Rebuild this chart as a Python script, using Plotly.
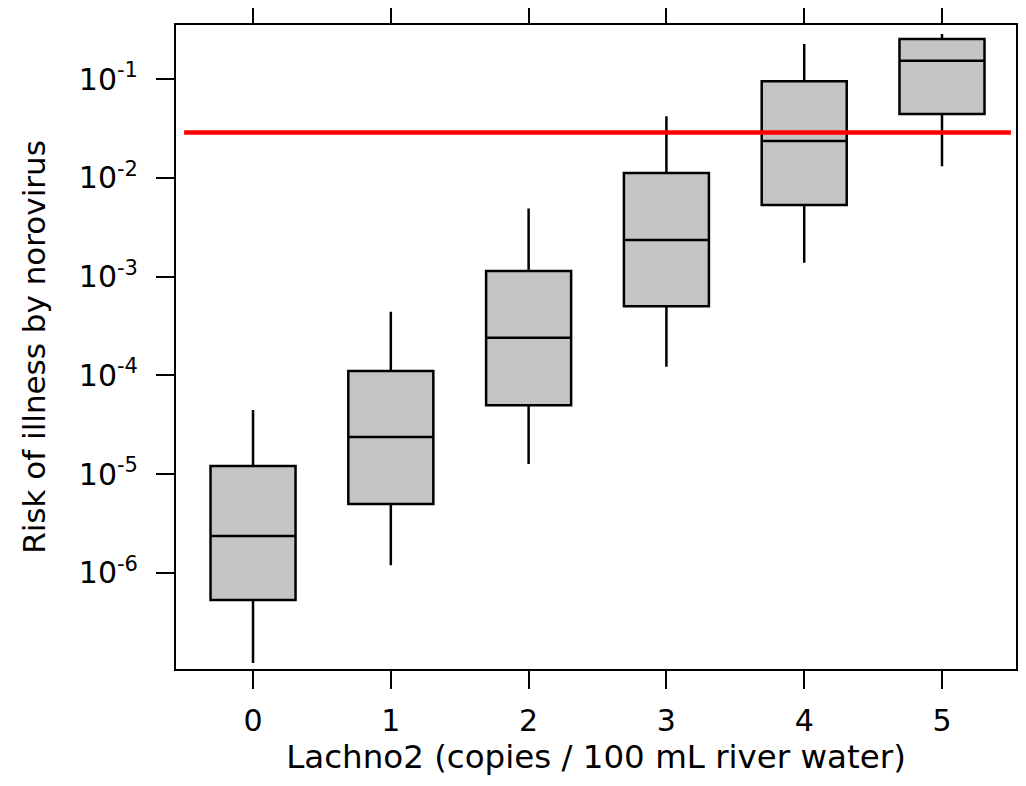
import plotly.graph_objects as go

# Data
categories = [0, 1, 2, 3, 4, 5]
upper_whisker = [4.47e-5, 4.4e-4, 4.9e-3, 4.2e-2, 0.226, 0.285]
q3_values = [1.21e-5, 1.11e-4, 1.14e-3, 1.12e-2, 0.095, 0.254]
median_values = [2.37e-6, 2.38e-5, 2.4e-4, 2.35e-3, 0.0236, 0.153]
q1_values = [5.33e-7, 5.0e-6, 5.0e-5, 5.0e-4, 5.3e-3, 0.0443]
lower_whisker = [1.23e-7, 1.2e-6, 1.27e-5, 1.22e-4, 1.38e-3, 0.0131]
threshold_x = [-0.5, 5.5]
threshold_y = [0.0288, 0.0288]
y_tickvals = [1e-6, 1e-5, 1e-4, 1e-3, 1e-2, 1e-1]
y_ticktext = ["10<sup>-6</sup>", "10<sup>-5</sup>", "10<sup>-4</sup>",
              "10<sup>-3</sup>", "10<sup>-2</sup>", "10<sup>-1</sup>"]
x_ticktext = ["0", "1", "2", "3", "4", "5"]

FONT = "DejaVu Sans"

fig = go.Figure()
fig.add_trace(go.Box(
    x=categories,
    q1=q1_values,
    median=median_values,
    q3=q3_values,
    lowerfence=lower_whisker,
    upperfence=upper_whisker,
    width=0.617,
    whiskerwidth=0,
    fillcolor="#C4C4C4",
    line=dict(color="black", width=2.5),
    boxpoints=False,
    showlegend=False,
))
fig.add_trace(go.Scatter(
    x=threshold_x, y=threshold_y, mode="lines",
    line=dict(color="#FF0000", width=4.5),
    showlegend=False,
))

axis_common = dict(
    showline=True, linecolor="black", linewidth=2,
    ticks="outside", ticklen=18, tickwidth=2, tickcolor="black",
    mirror="ticks", showgrid=False, zeroline=False, automargin=False,
    tickfont=dict(family=FONT, size=30, color="black"),
)

# The page body adds an 8px margin, so the figure is sized to fit the window.
fig.update_layout(
    width=1018, height=778,
    margin=dict(l=168, r=10, t=17, b=117),
    paper_bgcolor="white", plot_bgcolor="white",
    font=dict(family=FONT, size=30, color="black"),
    xaxis=dict(
        **axis_common,
        range=[-0.559, 5.537],
        tickmode="array", tickvals=categories, ticktext=x_ticktext,
        ticklabelstandoff=6,
        title=dict(text="Lachno2 (copies / 100 mL river water)",
                   font=dict(family=FONT, size=32.5, color="black"), standoff=4),
    ),
    yaxis=dict(
        **axis_common,
        type="log",
        range=[-6.972, -0.453],
        tickmode="array", tickvals=y_tickvals, ticktext=y_ticktext,
        ticklabelstandoff=12,
        title=dict(text="Risk of illness by norovirus",
                   font=dict(family=FONT, size=31, color="black"), standoff=24),
    ),
)

fig.write_html("out.html")
